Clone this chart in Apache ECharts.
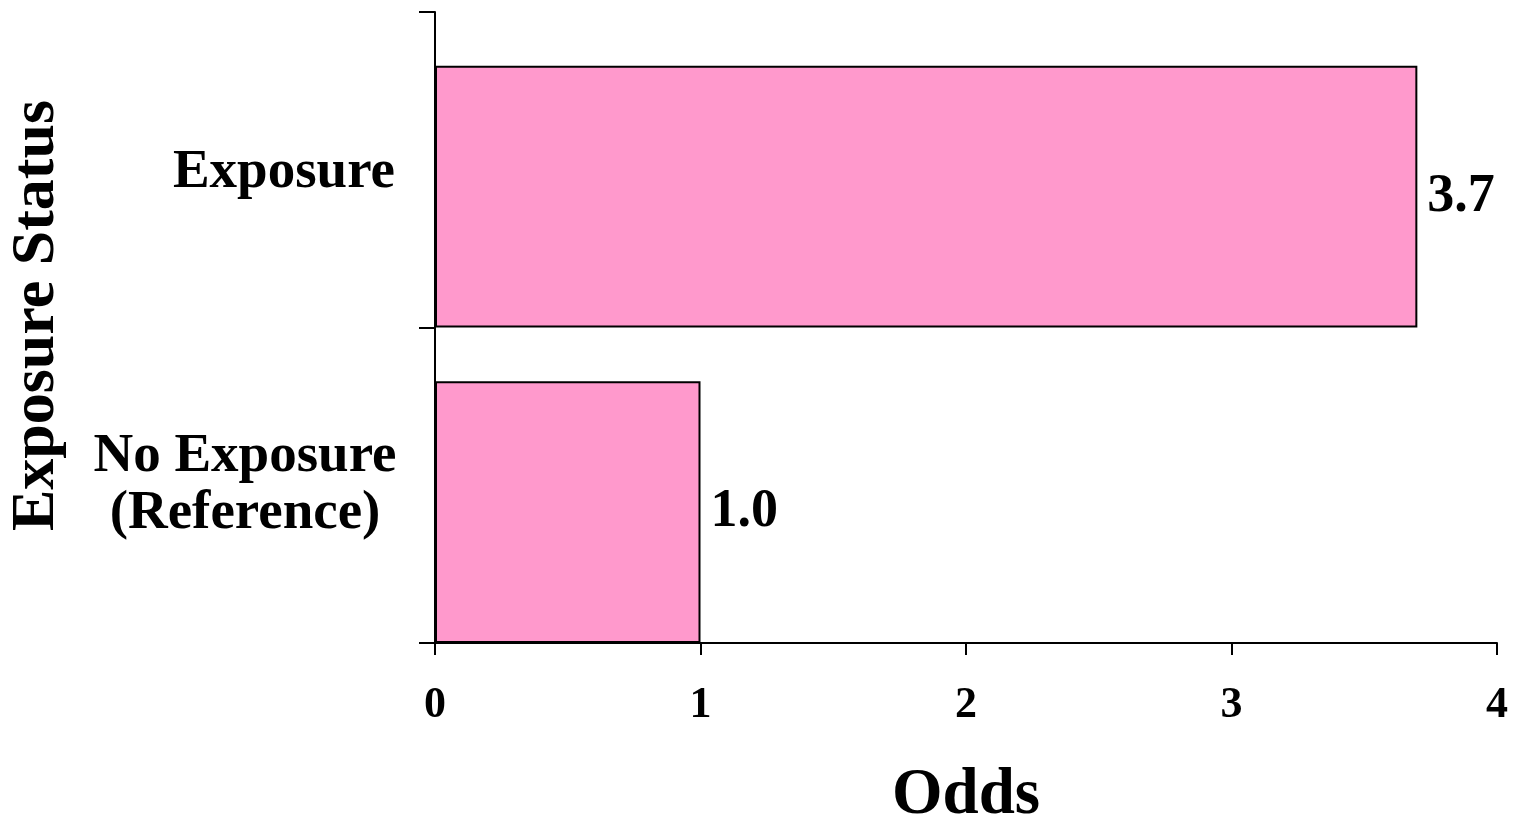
<!DOCTYPE html>
<html>
<head>
<meta charset="utf-8">
<script src="https://cdn.jsdelivr.net/npm/echarts@6/dist/echarts.min.js"></script>
<style>
html,body{margin:0;padding:0;background:#fff;}
#chart{width:1522px;height:822px;}
</style>
</head>
<body>
<div id="chart"></div>
<script>
const categories = ['No Exposure\n(Reference)', 'Exposure'];
const oddsValues = [1.0, 3.7];
const xTicks = [0, 1, 2, 3, 4];
const xAxisTitle = 'Odds';
const yAxisTitle = 'Exposure Status';

const FONT = "'Liberation Serif', 'Times New Roman', serif";
const chart = echarts.init(document.getElementById('chart'));
chart.setOption({
  animation: false,
  backgroundColor: '#ffffff',
  grid: { left: 435, right: 25, top: 12, bottom: 179, containLabel: false, outerBoundsMode: 'none' },
  xAxis: {
    type: 'value',
    min: xTicks[0], max: xTicks[xTicks.length - 1], interval: 1,
    name: xAxisTitle, nameLocation: 'middle', nameGap: 121,
    nameTextStyle: { fontFamily: FONT, fontWeight: 'bold', fontSize: 65, color: '#000' },
    axisLine: { show: true, lineStyle: { color: '#000', width: 2 } },
    axisTick: { show: true, length: 12, lineStyle: { color: '#000', width: 2 } },
    axisLabel: { fontFamily: FONT, fontWeight: 'bold', fontSize: 44, color: '#000', margin: 41 },
    splitLine: { show: false }
  },
  yAxis: {
    type: 'category',
    data: categories,
    name: yAxisTitle, nameLocation: 'middle', nameGap: 367, nameRotate: 90,
    nameTextStyle: { fontFamily: FONT, fontWeight: 'bold', fontSize: 62, color: '#000', padding: [0, 0, 0, 24] },
    axisLine: { show: true, lineStyle: { color: '#000', width: 2 } },
    axisTick: { show: true, length: 16, lineStyle: { color: '#000', width: 2 } },
    axisLabel: {
      margin: 40,
      formatter: function (v) {
        if (v.indexOf('\n') >= 0) {
          return v.split('\n').map(function (l) { return '{c|' + l + '}'; }).join('\n');
        }
        return '{s|' + v + '}';
      },
      rich: {
        c: { width: 300, align: 'center', fontFamily: FONT, fontWeight: 'bold', fontSize: 55, lineHeight: 57, color: '#000' },
        s: { fontFamily: FONT, fontWeight: 'bold', fontSize: 55, lineHeight: 57, color: '#000', padding: [6, 0, 0, 0] }
      }
    }
  },
  series: [
    {
      type: 'bar',
      data: ['-', '-'],
      barWidth: '17%',
      barGap: '0%',
      itemStyle: { color: 'transparent' },
      silent: true
    },
    {
      type: 'bar',
      data: oddsValues,
      barWidth: '83%',
      barGap: '0%',
      itemStyle: { color: '#FF99CC', borderColor: '#000', borderWidth: 2 },
      label: {
        show: true, position: 'right', distance: 10,
        fontFamily: FONT, fontWeight: 'bold', fontSize: 54, color: '#000',
        formatter: function (p) { return p.value.toFixed(1); }
      }
    }
  ]
});
</script>
</body>
</html>
